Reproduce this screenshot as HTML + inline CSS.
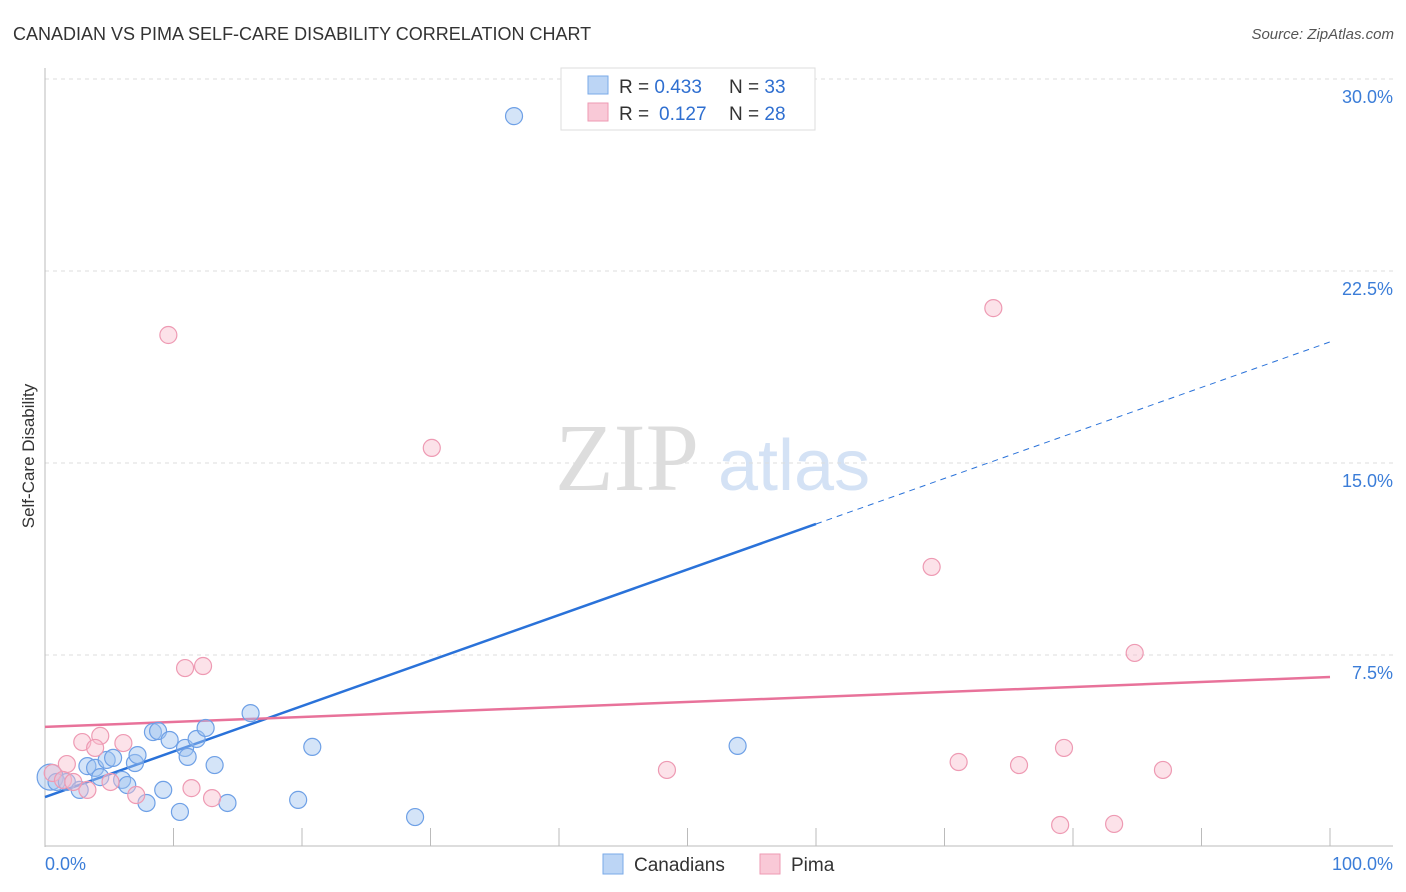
<!DOCTYPE html>
<html><head><meta charset="utf-8"><style>
body{margin:0;background:#fff;font-family:"Liberation Sans",sans-serif;}
#wrap{position:relative;width:1406px;height:892px;overflow:hidden}
</style></head><body><div id="wrap">
<svg id="svg" width="1406" height="892" xmlns="http://www.w3.org/2000/svg">
<text x="13" y="40" font-size="18" fill="#333">CANADIAN VS PIMA SELF-CARE DISABILITY CORRELATION CHART</text>
<text x="1394" y="39" font-size="15" fill="#555" font-style="italic" text-anchor="end">Source: ZipAtlas.com</text>
<text x="34" y="456" font-size="17" fill="#333" transform="rotate(-90 34 456)" text-anchor="middle">Self-Care Disability</text>
<text x="555" y="490" font-size="96" fill="#ddd" font-family="Liberation Serif">ZIP</text>
<text x="718" y="490" font-size="72" fill="#d4e2f5">atlas</text>
<g id="grid"></g><g id="trend"></g><g id="pts"></g>
<g>
<rect x="561" y="68" width="254" height="62" fill="#fff" stroke="#ddd"/>
<rect x="588" y="76" width="20" height="18" fill="#bcd5f5" stroke="#7aaae8"/>
<rect x="588" y="103" width="20" height="18" fill="#f9c9d7" stroke="#ee9ab3"/>
<text x="619" y="93" font-size="19" fill="#333">R = <tspan fill="#2f6fd0">0.433</tspan><tspan x="729">N = </tspan><tspan fill="#2f6fd0">33</tspan></text>
<text x="619" y="120" font-size="19" fill="#333">R = <tspan fill="#2f6fd0" x="659">0.127</tspan><tspan x="729">N = </tspan><tspan fill="#2f6fd0">28</tspan></text>
</g>
<g>
<rect x="603" y="854" width="20" height="20" fill="#bcd5f5" stroke="#7aaae8"/>
<text x="634" y="871" font-size="19" fill="#333">Canadians</text>
<rect x="760" y="854" width="20" height="20" fill="#f9c9d7" stroke="#ee9ab3"/>
<text x="791" y="871" font-size="19" fill="#333">Pima</text>
</g>
<text x="45" y="870" font-size="18" fill="#3b7dd8">0.0%</text>
<text x="1393" y="870" font-size="18" fill="#3b7dd8" text-anchor="end">100.0%</text>
</svg></div>
<script>
const yTicks=[7.5,15,22.5,30];
const yTickLabels=["7.5%","15.0%","22.5%","30.0%"];
const canX=[0.4,0.9,1.7,2.7,3.3,3.9,4.3,4.8,5.3,6.0,6.4,7.0,7.2,7.9,8.4,8.8,9.2,9.7,10.5,10.9,11.1,11.8,12.5,13.2,14.2,16.0,19.7,20.8,28.8,53.9,36.5];
const canY=[2.73,2.54,2.54,2.23,3.16,3.09,2.73,3.40,3.48,2.62,2.42,3.28,3.59,1.72,4.49,4.53,2.23,4.18,1.37,3.87,3.52,4.22,4.65,3.20,1.72,5.23,1.84,3.91,1.17,3.95,28.55];
const pimaX=[10.9,12.3,2.9,4.3,3.9,6.1,1.7,0.6,1.4,3.3,5.1,7.1,11.4,13.0,2.2,9.6,30.1,73.8,69.0,84.8,48.4,71.1,75.8,79.3,87.0,79.0,83.2];
const pimaY=[6.99,7.07,4.10,4.34,3.87,4.06,3.24,2.89,2.62,2.23,2.54,2.03,2.30,1.91,2.54,20.0,15.59,21.05,10.94,7.58,3.01,3.32,3.20,3.87,3.01,0.86,0.90];
const canTrend=[1.95,19.73]; // y at x=0 and x=100
const pimaTrend=[4.69,6.64];
const canSolidEnd=60;
const NS="http://www.w3.org/2000/svg";
const X=v=>45+v*12.85, Y=v=>847-v*25.6;
function mk(t,a,p){const e=document.createElementNS(NS,t);for(const k in a)e.setAttribute(k,a[k]);p.appendChild(e);return e;}
const grid=document.getElementById('grid');
yTicks.forEach((t,i)=>{
 const l=mk('line',{x1:45,x2:1393,y1:Y(t),y2:Y(t),stroke:'#ddd','stroke-dasharray':'4,4'},grid);
 
 
 const tx=mk('text',{x:1393,y:Y(t)+24,'font-size':18,fill:'#3b7dd8','text-anchor':'end'},grid);
 tx.textContent=yTickLabels[i];
 
 
});
const ax=mk('line',{x1:45,x2:45,y1:68,y2:847,stroke:'#bbb'},grid);


const bx=mk('line',{x1:45,x2:1393,y1:846,y2:846,stroke:'#bbb'},grid);


for(let i=0;i<=10;i++){const t=mk('line',{x1:X(i*10),x2:X(i*10),y1:828,y2:846,stroke:'#bbb'},grid);
 
 }
const pts=document.getElementById('pts');
canX.forEach((x,i)=>{const c=mk('circle',{cx:X(x),cy:Y(canY[i]),r:i===0?13:8.5,fill:'rgba(160,196,240,0.45)',stroke:'#6ea0e6','stroke-width':1.2},pts);
 
 });
pimaX.forEach((x,i)=>{const c=mk('circle',{cx:X(x),cy:Y(pimaY[i]),r:8.5,fill:'rgba(248,190,207,0.45)',stroke:'#ee9ab3','stroke-width':1.2},pts);
 
 });
const tr=document.getElementById('trend');
const cy=x=>canTrend[0]+(canTrend[1]-canTrend[0])*x/100;
const l1=mk('line',{x1:X(0),y1:Y(cy(0)),x2:X(canSolidEnd),y2:Y(cy(canSolidEnd)),stroke:'#2a72d9','stroke-width':2.5},tr);


const l2=mk('line',{x1:X(canSolidEnd),y1:Y(cy(canSolidEnd)),x2:X(100),y2:Y(cy(100)),stroke:'#2a72d9','stroke-width':1,'stroke-dasharray':'6,5'},tr);


const l3=mk('line',{x1:X(0),y1:Y(pimaTrend[0]),x2:X(100),y2:Y(pimaTrend[1]),stroke:'#e8729a','stroke-width':2.5},tr);


</script></body></html>
